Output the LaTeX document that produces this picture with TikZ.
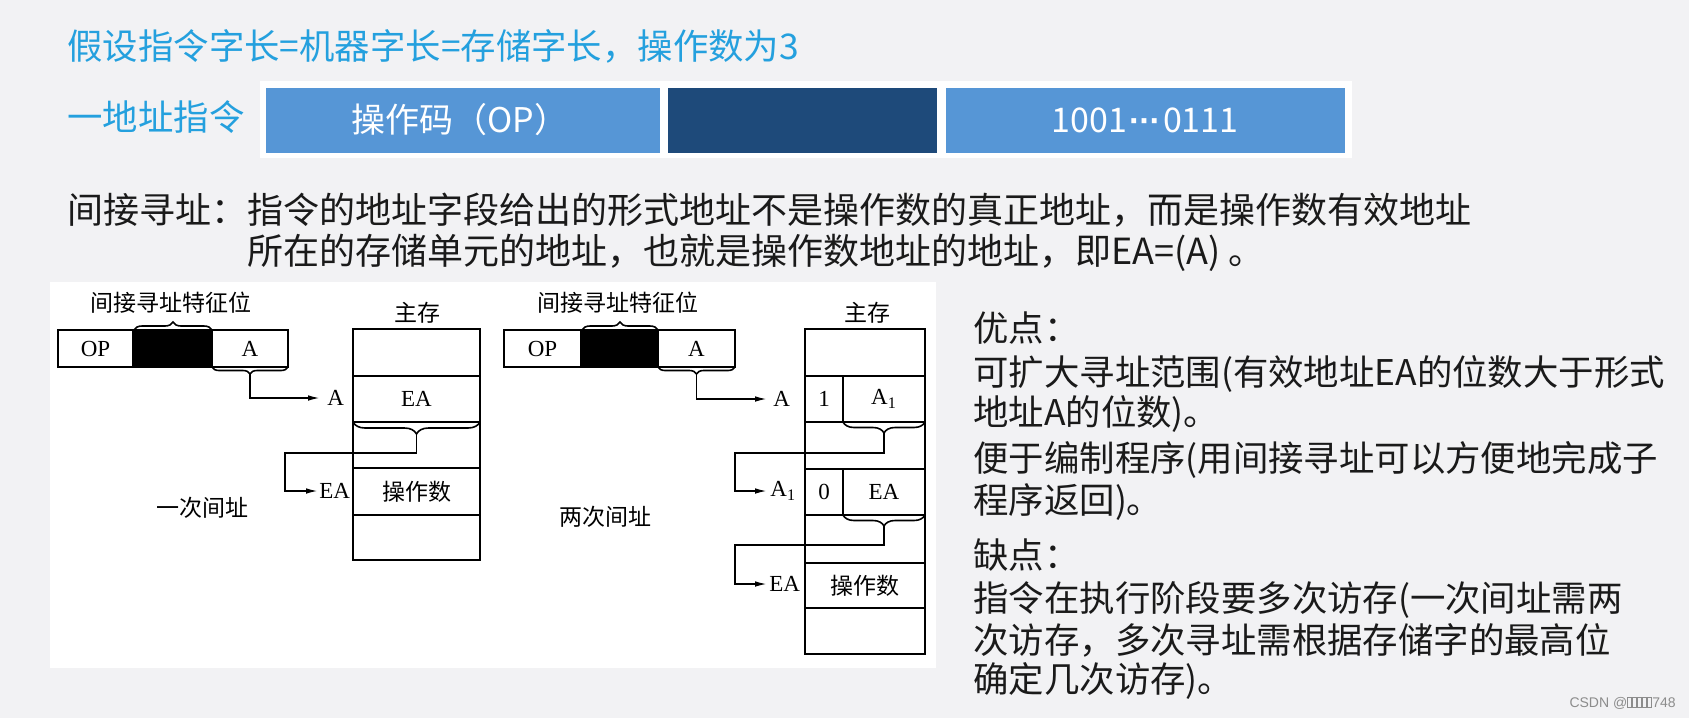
\documentclass[tikz,border=0pt]{standalone}
\usepackage{fontspec}
\setmainfont{Liberation Serif}
\newfontfamily\cjk{Noto Sans CJK SC}
\newfontfamily\wmfont{Liberation Sans}
\usetikzlibrary{arrows.meta,positioning,calc,decorations.pathreplacing}
\definecolor{pagegray}{RGB}{242,242,244}
\definecolor{titleblue}{RGB}{36,160,222}
\definecolor{fieldblue}{RGB}{86,150,214}
\definecolor{fielddark}{RGB}{30,74,122}
\definecolor{textdark}{RGB}{26,26,26}
\tikzset{
  ln/.style={line width=0.8pt},
  arr/.style={ln,-{Latex[length=6pt,width=2.8pt]}},
  brc/.style={ln,decorate,decoration={brace,amplitude=#1}},
  lab/.style={font=\fontsize{11.5}{13}\selectfont,inner sep=0pt},
  cjklab/.style={font=\cjk\fontsize{11.5}{13}\selectfont,inner sep=0pt},
  bodyline/.style={font=\cjk\fontsize{17.7}{20}\selectfont,text=textdark,anchor=west,inner sep=0pt},
  fieldtext/.style={font=\cjk\fontsize{17}{20}\selectfont,text=white,inner sep=0pt},
}
\newcommand{\tofu}{{\setlength\fboxsep{0pt}\setlength\fboxrule{0.3pt}\fbox{\rule{0pt}{5pt}\hspace{1.6pt}}\hspace{0.3pt}}}
\newcommand{\middots}{{\wmfont\bfseries\kern1pt ·\kern-0.5pt·\kern-0.5pt·\kern1pt}}
\begin{document}
\begin{tikzpicture}[x=0.5pt,y=-0.5pt]
\useasboundingbox (0,0) rectangle (1689,718);
\fill[pagegray] (0,0) rectangle (1689,718);
% heading
\node[font=\cjk\fontsize{17.7}{20}\selectfont,text=titleblue,anchor=west,inner sep=0pt] (title) at (67,46) {假设指令字长=机器字长=存储字长，操作数为3};
\node[font=\cjk\fontsize{17.7}{20}\selectfont,text=titleblue,anchor=west,inner sep=0pt] (onebar) at (67,117) {一地址指令};
% instruction format bar
\fill[white] (260,81) rectangle (1352,158);
\fill[fieldblue] (266,88) rectangle (660,153);
\fill[fielddark] (668,88) rectangle (937,153);
\fill[fieldblue] (946,88) rectangle (1345,153);
\node[fieldtext] (opfield) at (460,120) {操作码（OP）};
\node[fieldtext] (addrfield) at (1145,120) {1001\middots 0111};
% definition
\node[bodyline,font=\cjk\fontsize{18}{20}\selectfont] (def1) at (67,210) {间接寻址：指令的地址字段给出的形式地址不是操作数的真正地址，而是操作数有效地址};
\node[bodyline,font=\cjk\fontsize{18}{20}\selectfont] (def2) at (247,253) {所在的存储单元的地址，也就是操作数地址的地址，即EA=(A) 。};
% figure panel
\fill[white] (50,282) rectangle (936,668);
% --- one-level indirect
\node[cjklab] (tagL) at (171,303) {间接寻址特征位};
\draw[brc=4pt] (134,330) -- (212,330);
\fill[black] (133,330) rectangle (212,367);
\draw[ln] (58,330) rectangle (288,367) (133,330) -- (133,367) (212,330) -- (212,367);
\node[lab] (opL) at (95.5,348.5) {OP};
\node[lab] (aL) at (250,348.5) {A};
\draw[brc=3.5pt,decoration={mirror}] (212,367) -- (288,367);
\coordinate (tipL1) at (250,374);
\node[cjklab] (memL) at (417,313) {主存};
\draw[ln] (353,329) rectangle (480,560);
\foreach \yy in {376,422,468,515} \draw[ln] (353,\yy) -- (480,\yy);
\node[lab] (eaL) at (416.5,399) {EA};
\node[cjklab] (opdL) at (416.5,491.5) {操作数};
\draw[brc=6pt,decoration={mirror}] (353,422) -- (480,422);
\coordinate (tipL2) at (416.5,434);
\coordinate (bendL) at (285,453);
\node[lab,anchor=west,inner xsep=3.5pt] (inA) at (320,398) {A};
\node[lab,anchor=west,inner xsep=0.5pt] (inEA) at (318,491) {EA};
\draw[arr] (tipL1) |- (inA.west);
\draw[arr] (tipL2) |- (bendL) |- (inEA.west);
\node[cjklab] (capL) at (202,508) {一次间址};
% --- two-level indirect
\node[cjklab] (tagR) at (618,303) {间接寻址特征位};
\draw[brc=4pt] (582,330) -- (658,330);
\fill[black] (581,330) rectangle (658,367);
\draw[ln] (504,330) rectangle (735,367) (581,330) -- (581,367) (658,330) -- (658,367);
\node[lab] (opR) at (542.5,348.5) {OP};
\node[lab] (aR) at (696.5,348.5) {A};
\draw[brc=3.5pt,decoration={mirror}] (658,367) -- (735,367);
\coordinate (tipR1) at (696.5,374);
\node[cjklab] (memR) at (867,313) {主存};
\draw[ln] (805,329) rectangle (925,654);
\foreach \yy in {376,422,469,515,563,608} \draw[ln] (805,\yy) -- (925,\yy);
\draw[ln] (843,376) -- (843,422) (843,469) -- (843,515);
\node[lab] (oneR) at (824,399) {1};
\node[lab] (a1R) at (884,399) {A\textsubscript{1}};
\node[lab] (zeroR) at (824,492) {0};
\node[lab] (eaR) at (884,492) {EA};
\node[cjklab] (opdR) at (865,585.5) {操作数};
\draw[brc=5.5pt,decoration={mirror}] (843,422) -- (925,422);
\draw[brc=5.5pt,decoration={mirror}] (843,515) -- (925,515);
\coordinate (tipR2) at (884,433);
\coordinate (tipR3) at (884,526);
\coordinate (bendR2) at (735,453);
\coordinate (bendR3) at (735,545);
\node[lab,anchor=west,inner xsep=3pt] (inRA) at (767,399) {A};
\node[lab,anchor=west,inner xsep=1.5pt] (inRA1) at (767,491) {A\textsubscript{1}};
\node[lab,anchor=west,inner xsep=1pt] (inREA) at (767,584) {EA};
\draw[arr] (tipR1) |- (inRA.west);
\draw[arr] (tipR2) |- (bendR2) |- (inRA1.west);
\draw[arr] (tipR3) |- (bendR3) |- (inREA.west);
\node[cjklab] (capR) at (605,517) {两次间址};
% pros and cons
\node[bodyline] (pro) at (973,328) {优点：};
\node[bodyline] (pro1) at (973,374) {可扩大寻址范围(有效地址EA的位数大于形式};
\node[bodyline] (pro2) at (973,414) {地址A的位数)。};
\node[bodyline] (pro3) at (973,460) {便于编制程序(用间接寻址可以方便地完成子};
\node[bodyline] (pro4) at (973,502) {程序返回)。};
\node[bodyline] (con) at (973,555) {缺点：};
\node[bodyline] (con1) at (973,600) {指令在执行阶段要多次访存(一次间址需两};
\node[bodyline] (con2) at (973,640) {次访存，多次寻址需根据存储字的最高位};
\node[bodyline] (con3) at (973,681) {确定几次访存)。};
% watermark
\node[font=\wmfont\fontsize{7}{8}\selectfont,text=black!45,anchor=east,inner sep=0pt] (mark) at (1676,703) {CSDN @\tofu\tofu\tofu\tofu\tofu 748};
\end{tikzpicture}
\end{document}
